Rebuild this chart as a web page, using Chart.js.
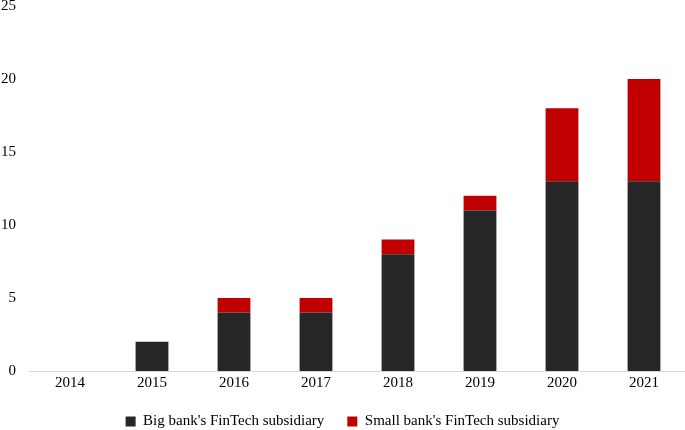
<!DOCTYPE html>
<html>
<head>
<meta charset="utf-8">
<script src="https://cdn.jsdelivr.net/npm/chart.js@4"></script>
<style>
  html, body { margin: 0; padding: 0; background: #fff; }
  #wrap { width: 685px; height: 430px; }
</style>
</head>
<body>
<div id="wrap"><canvas id="chart" width="685" height="430"></canvas></div>
<script>
const years = ['2014', '2015', '2016', '2017', '2018', '2019', '2020', '2021'];
const bigBank = [0, 2, 4, 4, 8, 11, 13, 13];
const smallBank = [0, 0, 1, 1, 1, 1, 5, 7];
const yTicks = [0, 5, 10, 15, 20, 25];

const serif = "'Liberation Serif', 'Times New Roman', serif";

new Chart(document.getElementById('chart').getContext('2d'), {
    type: 'bar',
    data: {
        labels: years,
        datasets: [
            { label: "Big bank's FinTech subsidiary", data: bigBank, backgroundColor: '#262626', barPercentage: 0.4, categoryPercentage: 1 },
            { label: "Small bank's FinTech subsidiary", data: smallBank, backgroundColor: '#c00000', barPercentage: 0.4, categoryPercentage: 1 }
        ]
    },
    options: {
        responsive: false,
        animation: false,
        // negative bottom pushes the legend down to where the original sits
        layout: { padding: { top: 6, right: 0, left: 0, bottom: -9 } },
        plugins: {
            legend: {
                position: 'bottom',
                labels: { font: { family: serif, size: 15 }, color: '#000', boxWidth: 10, boxHeight: 10, padding: 23 }
            },
            tooltip: { enabled: false }
        },
        scales: {
            x: {
                stacked: true,
                grid: { display: false, drawTicks: false },
                border: { color: '#d9d9d9', width: 1 },
                ticks: { font: { family: serif, size: 15 }, color: '#000', padding: 3 },
                afterFit: axis => { axis.height = 20; }
            },
            y: {
                stacked: true,
                min: yTicks[0],
                max: yTicks[yTicks.length - 1],
                afterBuildTicks: axis => { axis.ticks = yTicks.map(v => ({ value: v })); },
                grid: { display: false, drawTicks: false },
                border: { display: false },
                ticks: { font: { family: serif, size: 15 }, color: '#000', padding: 13 },
                afterFit: axis => { axis.width = 29; axis.paddingTop = 0; axis.paddingBottom = 0; }
            }
        }
    }
});
</script>
</body>
</html>
